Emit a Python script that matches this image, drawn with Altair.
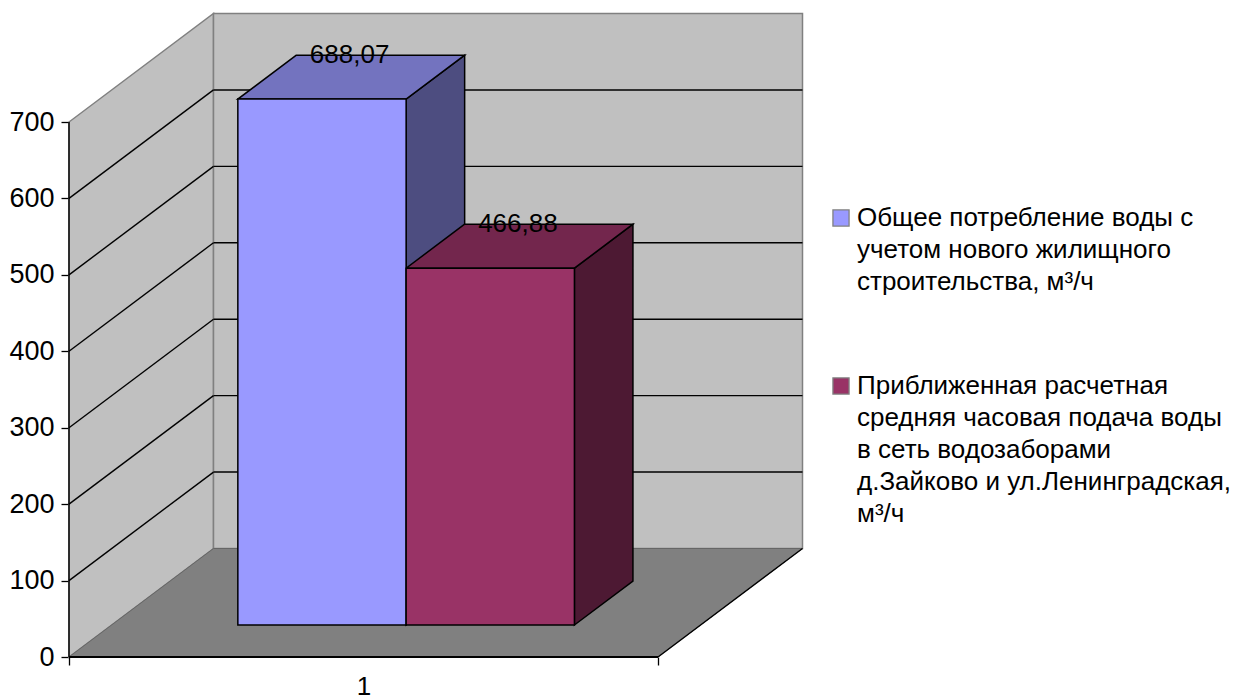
import altair as alt
import pandas as pd

series = ["Общее потребление воды с|учетом нового жилищного|строительства, м³/ч",
          "Приближенная расчетная|средняя часовая подача воды|в сеть водозаборами|д.Зайково и ул.Ленинградская,|м³/ч"]
values = [688.07, 466.88]
value_labels = ["688,07", "466,88"]
front_colors = ["#9999FF", "#993366"]
top_colors = ["#7373BF", "#73264D"]
side_colors = ["#4D4D80", "#4D1933"]
ticks = [0, 100, 200, 300, 400, 500, 600, 700]
category = "1"

W, H = 734, 643
PX_X, PX_Y = 589.0, 535 / 700
DX, DY = 144.5 / PX_X, 108.5 / PX_Y
D1, D2 = 0.295, 0.70
BW = 1 / 3.5
GAP = BW * 0.75
XMAX, YMAX = W / PX_X, H / PX_Y
FONT = "Liberation Sans"

xs = alt.Scale(domain=[0, XMAX], nice=False, zero=False)
ys = alt.Scale(domain=[0, YMAX], nice=False, zero=False)

X_AXIS = alt.Axis(
    values=[0, 0.5, 1], domain=False, grid=False, tickSize=8, tickColor="black", tickWidth=1.3,
    tickOpacity=alt.expr("datum.value == 0.5 ? 0 : 1"),
    labelExpr=f"datum.value == 0.5 ? '{category}' : ''", labelFont=FONT, labelFontSize=26,
    labelColor="black", labelPadding=8, labelAngle=0, labelOverlap=False, labelFlush=False)
Y_AXIS = alt.Axis(
    values=ticks, domain=False, grid=False, tickSize=8, tickColor="black", tickWidth=1.3,
    labelFont=FONT, labelFontSize=27, labelColor="black", labelPadding=7)


def X():
    return alt.X("x:Q", scale=xs, title=None, axis=X_AXIS)


def Y():
    return alt.Y("y:Q", scale=ys, title=None, axis=Y_AXIS)


X2 = alt.X2("x2:Q")
Y2 = alt.Y2("y2:Q")


def px(u, d):
    return u + d * DX


def py(v, d):
    return v + d * DY


def vert(rows, fill_col="fill", stroke="black", sw=1.5):
    return alt.Chart(pd.DataFrame(rows)).mark_area(stroke=stroke, strokeWidth=sw, opacity=1, orient="vertical").encode(
        x=X(), y=Y(), y2=Y2, detail="id:N",
        color=alt.Color(f"{fill_col}:N", scale=None))


def horiz(rows, stroke="black", sw=1.5):
    return alt.Chart(pd.DataFrame(rows)).mark_area(stroke=stroke, strokeWidth=sw, opacity=1, orient="horizontal").encode(
        y=Y(), x=X(), x2=X2, detail="id:N",
        color=alt.Color("fill:N", scale=None))


def rules(rows, color="black", sw=1.4):
    return alt.Chart(pd.DataFrame(rows)).mark_rule(color=color, strokeWidth=sw).encode(x=X(), x2=X2, y=Y(), y2=Y2)


# walls and floor
left_wall = vert([
    {"id": "l", "x": 0, "y": 0, "y2": 700, "fill": "#C0C0C0"},
    {"id": "l", "x": DX, "y": DY, "y2": 700 + DY, "fill": "#C0C0C0"}], stroke="#808080", sw=1.5)
back_wall = vert([
    {"id": "b", "x": DX, "y": DY, "y2": 700 + DY, "fill": "#C0C0C0"},
    {"id": "b", "x": 1 + DX, "y": DY, "y2": 700 + DY, "fill": "#C0C0C0"}], stroke="#808080", sw=1.5)
floor = horiz([
    {"id": "f", "y": 0, "x": 0, "x2": 1, "fill": "#808080"},
    {"id": "f", "y": DY, "x": DX, "x2": 1 + DX, "fill": "#808080"}], stroke="#666666", sw=1)

grid_rows = []
for t in ticks[1:-1]:
    grid_rows.append({"x": 0, "x2": DX, "y": t, "y2": t + DY})
    grid_rows.append({"x": DX, "x2": 1 + DX, "y": t + DY, "y2": t + DY})
grid = rules(grid_rows)

# axis lines
axis_lines = rules([
    {"x": 0, "x2": 0, "y": 0, "y2": 700},
    {"x": 1, "x2": 1 + DX, "y": 0, "y2": DY},
], sw=1.4)
base_line = rules([{"x": 0, "x2": 1, "y": 0, "y2": 0}], sw=1.8)

# bars
sides, tops, fronts, labels = [], [], [], []
for i, (s, v, l) in enumerate(zip(series, values, value_labels)):
    x0, x1 = GAP + i * BW, GAP + (i + 1) * BW
    sides += [
        {"id": i, "x": px(x1, D1), "y": py(0, D1), "y2": py(v, D1), "fill": side_colors[i]},
        {"id": i, "x": px(x1, D2), "y": py(0, D2), "y2": py(v, D2), "fill": side_colors[i]}]
    tops += [
        {"id": i, "y": py(v, D1), "x": px(x0, D1), "x2": px(x1, D1), "fill": top_colors[i]},
        {"id": i, "y": py(v, D2), "x": px(x0, D2), "x2": px(x1, D2), "fill": top_colors[i]}]
    fronts += [
        {"id": i, "x": px(x0, D1), "y": py(0, D1), "y2": py(v, D1), "series": s},
        {"id": i, "x": px(x1, D1), "y": py(0, D1), "y2": py(v, D1), "series": s}]
    labels.append({"x": px((x0 + x1) / 2, 0.5), "y": py(v, D2), "t": l})

side_l = vert(sides)
top_l = horiz(tops)
front_l = alt.Chart(pd.DataFrame(fronts)).mark_area(stroke="black", strokeWidth=1.5, opacity=1, orient="vertical").encode(
    x=X(), y=Y(), y2=Y2, detail="id:N",
    color=alt.Color("series:N", scale=alt.Scale(domain=series, range=front_colors), legend=alt.Legend(
        title=None, orient="none", legendX=759, legendY=191, padding=0,
        symbolType="square", symbolSize=260, symbolStrokeColor="black", symbolStrokeWidth=1.3,
        symbolOpacity=1, labelFont=FONT, labelFontSize=26, labelColor="black",
        labelExpr="split(datum.label, '|')", labelLimit=500, labelOffset=3, rowPadding=78,
        symbolOffset=0)))

text_l = alt.Chart(pd.DataFrame(labels)).mark_text(font=FONT, fontSize=26, color="black", baseline="middle", dx=-2).encode(
    x=X(), y=Y(), text="t:N")

chart = alt.layer(
    left_wall, back_wall, floor, grid, axis_lines, base_line, side_l, top_l, front_l, text_l
).properties(
    width=W, height=H, background="white",
    autosize=alt.AutoSizeParams(type="none"),
    padding={"left": 61, "top": 6, "right": 428, "bottom": 50},
    config=alt.Config(view=alt.ViewConfig(stroke="transparent"), style={"guide-label": {"lineHeight": 32}}),
)

chart.save("out.html", embed_options={"renderer": "svg", "actions": False})
